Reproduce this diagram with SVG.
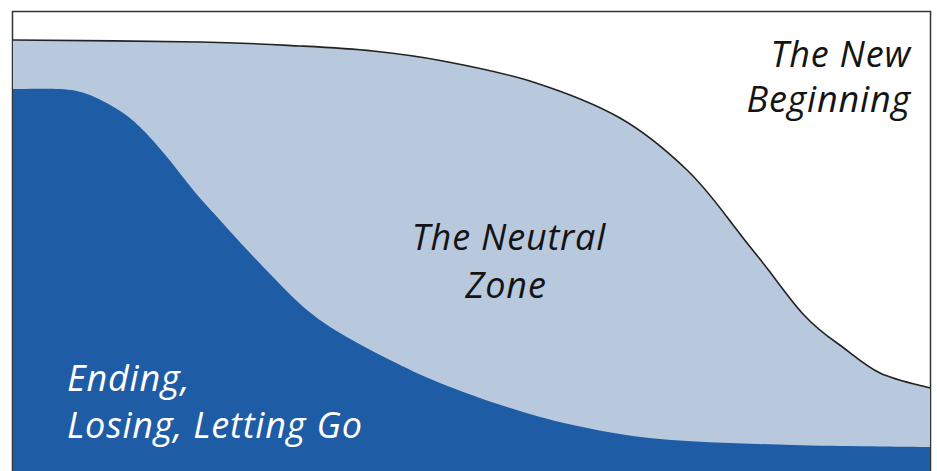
<svg xmlns="http://www.w3.org/2000/svg" width="937" height="471" viewBox="0 0 937 471">
<style>
.lbl{font-family:"Open Sans","Noto Sans","DejaVu Sans",sans-serif;font-style:italic;font-size:36px;letter-spacing:0.8px}
.dark{fill:#141414}
.light{fill:#ffffff}
</style>
<rect x="0" y="0" width="937" height="471" fill="#ffffff"/>
<g id="frame">
<rect x="12.5" y="11.5" width="918" height="470" fill="none" stroke="#333333" stroke-width="1.5"/>
</g>
<g id="neutral-zone">
<path d="M13,40 C44,40.3 152,41 200,42 C247.8,43 271,44.5 300,46 C328.8,47.5 349,48.5 373,51 C396.8,53.5 416,55.8 443,61 C469.7,66.2 503.5,72.5 533,82 C562.5,91.5 594,103.3 620,118 C645.7,132.7 667.5,151.3 687,170 C706.5,188.7 720,208 737,230 C752,250 758,256 770,272 C782,288 792,302 803,314 C814,326 824,334 837,343 C850,352 865,366 880,373 C895.5,380.5 921.7,385.5 930,388 L930,471 L13,471 Z" fill="#B8C9DE"/>
<path d="M13,40 C44,40.3 152,41 200,42 C247.8,43 271,44.5 300,46 C328.8,47.5 349,48.5 373,51 C396.8,53.5 416,55.8 443,61 C469.7,66.2 503.5,72.5 533,82 C562.5,91.5 594,103.3 620,118 C645.7,132.7 667.5,151.3 687,170 C706.5,188.7 720,208 737,230 C752,250 758,256 770,272 C782,288 792,302 803,314 C814,326 824,334 837,343 C850,352 865,366 880,373 C895.5,380.5 921.7,385.5 930,388" fill="none" stroke="#222222" stroke-width="1.6"/>
<text class="lbl dark" x="509" y="250" text-anchor="middle">The Neutral</text>
<text class="lbl dark" x="506" y="298" text-anchor="middle">Zone</text>
</g>
<g id="ending">
<path d="M13,89 C20.8,89 47.7,88.2 60,89 C72.3,89.8 77.5,90.7 87,94 C96.5,97.3 108.2,103.5 117,109 C125.8,114.5 131.7,119 140,127 C148.3,135 158.2,146.5 167,157 C175.8,167.5 184,179 194,191 C204,203 213.7,213 227,228 C240.3,243 259.7,263.2 273,277 C286.3,290.8 295.8,300.7 307,310 C318.2,319.3 326.2,324.7 340,333 C353.8,341.3 373.3,351.7 390,360 C406.7,368.3 420.5,375.2 440,383 C459.5,390.8 484.8,400 507,407 C529.2,414 547.5,419.7 573,425 C598.5,430.3 623.3,435.7 660,439 C696.7,442.3 748,443.7 793,445 C838,446.3 907.2,446.7 930,447 L930,471 L13,471 Z" fill="#1F5CA6"/>
<text class="lbl light" x="67" y="391">Ending,</text>
<text class="lbl light" x="67" y="438">Losing, Letting Go</text>
</g>
<g id="new-beginning">
<text class="lbl dark" x="911" y="67" text-anchor="end">The New</text>
<text class="lbl dark" x="911" y="112" text-anchor="end">Beginning</text>
</g>
</svg>
